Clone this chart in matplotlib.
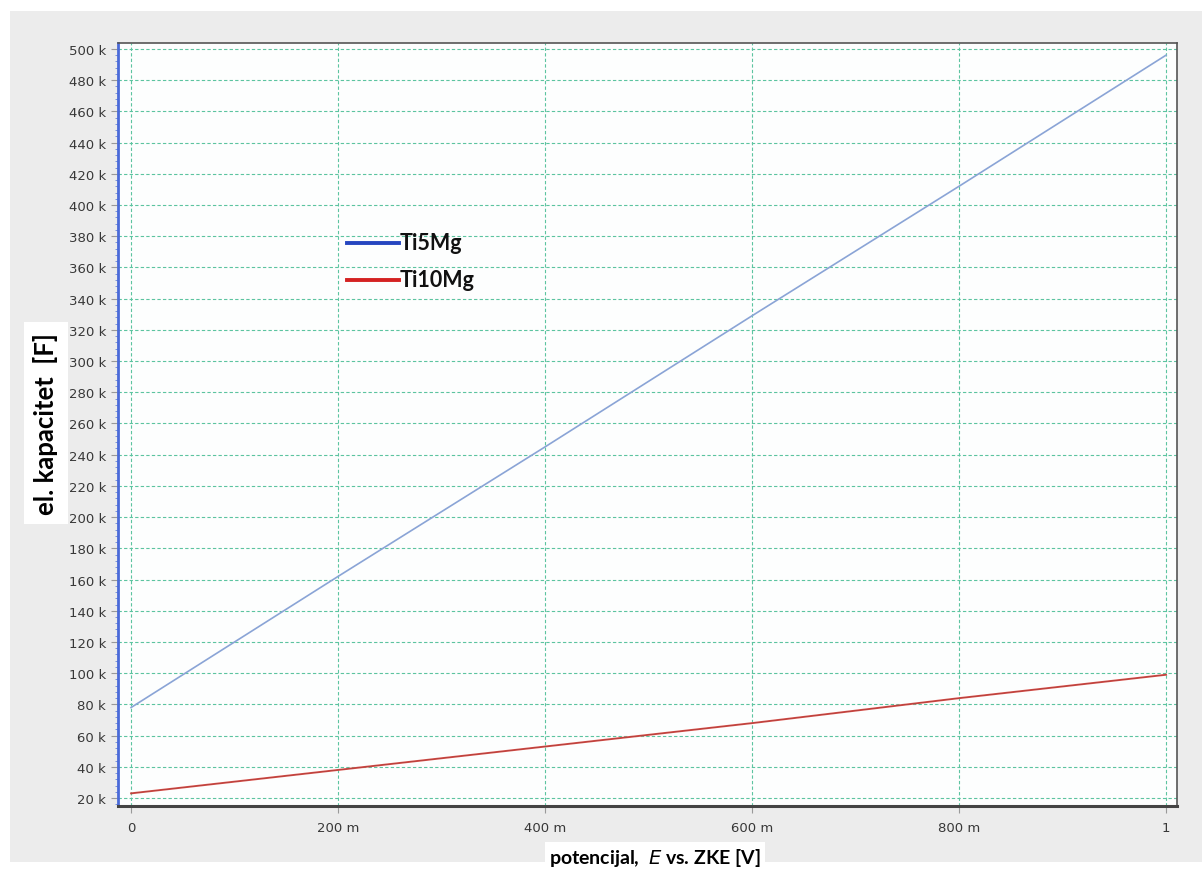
import numpy as np
import matplotlib
matplotlib.use("Agg")
from matplotlib import pyplot as plt
from matplotlib.patches import Rectangle
from matplotlib.ticker import FuncFormatter, MultipleLocator

# potential E (V) and capacitance (F)
potential = [0.0, 0.2, 0.4, 0.6, 0.8, 1.0]
ti5mg = [78e3, 162e3, 245e3, 329e3, 412e3, 496e3]
ti10mg = [23e3, 38e3, 53e3, 68e3, 84e3, 99e3]
series_names = ["Ti5Mg", "Ti10Mg"]
x_ticks = [0.0, 0.2, 0.4, 0.6, 0.8, 1.0]
x_ticklabels = ["0", "200 m", "400 m", "600 m", "800 m", "1"]
y_ticks = np.arange(20e3, 500e3 + 1, 20e3)

fig = plt.figure(figsize=(12.02, 8.79), dpi=100)
fig.patch.set_facecolor("white")
# grey panel behind the plot
fig.add_artist(Rectangle((10 / 1202, 1 - 863 / 879), 1192 / 1202, 851 / 879,
                         transform=fig.transFigure, facecolor="#ececec",
                         edgecolor="none", zorder=-5))

ax = fig.add_axes([118 / 1202, 1 - 807 / 879, 1059 / 1202, 763 / 879])
ax.set_facecolor("#fdfefe")

ax.plot(potential, ti5mg, color="#8aa4d6", lw=1.2, zorder=3)
ax.plot(potential, ti10mg, color="#d9504a", lw=1.4, zorder=3)
ax.plot(potential, ti10mg, color="#7a2a2a", lw=0.4, alpha=0.6, zorder=3)

ax.set_xlim(-0.0126, 1.0106)
ax.set_ylim(14.9e3, 503.8e3)
ax.set_xticks(x_ticks)
ax.set_xticklabels(x_ticklabels)
ax.set_yticks(y_ticks)
ax.yaxis.set_major_formatter(FuncFormatter(lambda v, p: f"{int(round(v / 1000))} k"))
ax.yaxis.set_minor_locator(MultipleLocator(4e3))

ax.grid(True, which="major", color="#5cc4a0", lw=0.8, ls=(0, (3, 2)), zorder=1)
ax.tick_params(axis="both", which="major", labelsize=9.5, labelcolor="#383838",
               color="#999999", length=5, width=0.8)
ax.tick_params(axis="y", which="minor", color="#6a86d8", length=2, width=0.6)
ax.tick_params(axis="x", pad=6)

for s in ["top", "right"]:
    ax.spines[s].set_color("#555555")
    ax.spines[s].set_linewidth(1.2)
ax.spines["bottom"].set_color("#444444")
ax.spines["bottom"].set_linewidth(2.2)
ax.spines["left"].set_color("#4a6ad8")
ax.spines["left"].set_linewidth(2.0)

# hand-made legend
legend_colors = ["#2646c0", "#d42222"]
for i, (name, c) in enumerate(zip(series_names, legend_colors)):
    y = 1 - (244 + i * 37) / 879
    fig.add_artist(plt.Line2D([347 / 1202, 399 / 1202], [y, y], color=c, lw=2.8,
                              transform=fig.transFigure))
    fig.text(400 / 1202, y, name, fontsize=15.5, fontweight="bold", family="Lato",
             va="center", ha="left", color="#111111")

fig.text(46 / 1202, 1 - 424 / 879, "el. kapacitet  [F]", rotation=90, fontsize=18.5,
         fontweight="bold", family="Lato", ha="center", va="center",
         bbox=dict(facecolor="white", edgecolor="none", pad=7))
fig.text(655 / 1202, 1 - 858 / 879, r"potencijal,  $\it{E}$ vs. ZKE [V]", fontsize=14,
         fontweight="bold", family="Lato", ha="center", va="center",
         bbox=dict(facecolor="white", edgecolor="none", pad=3))

fig.savefig("out.png", dpi=100)
